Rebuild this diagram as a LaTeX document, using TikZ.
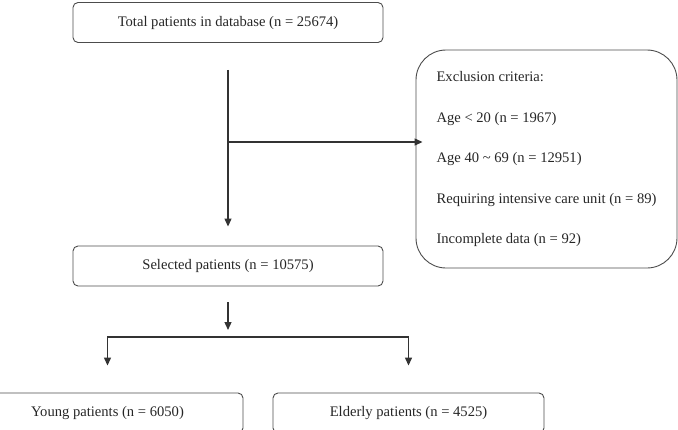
\documentclass[tikz,border=0pt]{standalone}
\usepackage{fontspec}
\setmainfont{Liberation Serif}
\usetikzlibrary{arrows.meta,positioning}

\begin{document}
\begin{tikzpicture}[
  x=1pt,
  y=-1pt,
  stage/.style={
    draw=black!70,
    line width=0.9pt,
    rounded corners=5pt,
    align=center,
    inner sep=3pt,
    minimum width=310pt,
    minimum height=40pt,
    text=black!85,
    font=\fontsize{14.6}{17}\selectfont
  },
  criteria/.style={
    draw=black!70,
    line width=0.9pt,
    rounded corners=30pt,
    align=left,
    inner sep=0pt,
    minimum width=261pt,
    minimum height=218pt,
    text=black!85,
    font=\fontsize{14.6}{40.5}\selectfont
  },
  arrow/.style={-{Triangle[length=8pt, width=7pt]}, line width=1.3pt, draw=black!80}
]
\useasboundingbox (0,0) rectangle (678,429);
\clip (0,0) rectangle (678,429);

\node[stage] (total) at (228,22.5) {Total patients in database (n = 25674)};
\node[criteria] (excl) at (546.5,159) {Exclusion criteria:\\Age < 20 (n = 1967)\\Age 40 \textasciitilde\ 69 (n = 12951)\\Requiring intensive care unit (n = 89)\\Incomplete data (n = 92)};
\node[stage] (selected) at (228,266) {Selected patients (n = 10575)};

\node[stage, minimum width=271pt] (young) at (107.5,413) {Young patients (n = 6050)};
\node[stage, minimum width=271pt] (elderly) at (408.5,413) {Elderly patients (n = 4525)};

\coordinate (branch) at (228,142);
\coordinate (split) at (228,337);

\draw[arrow, shorten <=27pt, shorten >=19pt] (total) -- (selected);
\draw[arrow, shorten >=-7pt] (branch) -- (branch -| excl.west);

\draw[arrow, shorten <=16pt, shorten >=7pt] (selected) -- (split);
\draw[arrow, shorten >=27pt] (split) -| (young);
\draw[arrow, shorten >=27pt] (split) -| (elderly);
\end{tikzpicture}
\end{document}
